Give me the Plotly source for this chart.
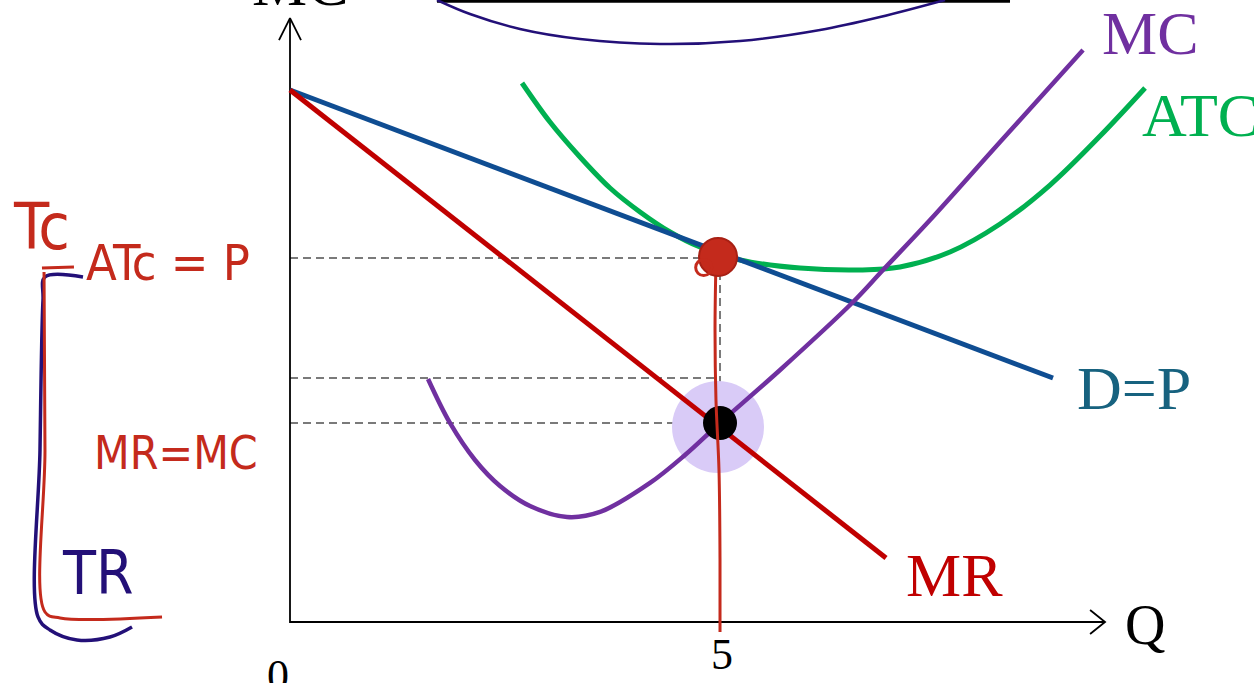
import plotly.graph_objects as go

# ---------------- data (Q on x, price/cost on y) ----------------
demand_q = [0.0, 8.872]
demand_p = [10.0, 4.586]

mr_q = [0.0, 6.930]
mr_p = [10.0, 1.203]

mc_q = [1.605, 1.860, 2.151, 2.442, 2.791, 3.221, 3.605, 4.186, 4.593, 5.0,
        5.698, 6.535, 6.895, 7.442, 8.256, 9.221]
mc_p = [4.568, 3.741, 3.045, 2.556, 2.180, 1.974, 2.068, 2.613, 3.139, 3.741,
        4.737, 5.996, 6.617, 7.556, 9.023, 10.752]

atc_q = [2.698, 3.023, 3.372, 3.721, 4.070, 4.419, 4.767, 5.233, 5.930, 6.628,
         7.093, 7.674, 8.256, 8.837, 9.419, 9.942]
atc_p = [10.132, 9.398, 8.741, 8.158, 7.707, 7.331, 7.049, 6.805, 6.654, 6.617,
         6.673, 6.955, 7.481, 8.214, 9.135, 10.038]

# partially visible curve and rule at the top (previous diagram)
top_curve_q = [1.709, 2.093, 2.674, 3.372, 4.302, 5.233, 6.163, 6.860, 7.616]
top_curve_p = [11.692, 11.429, 11.147, 10.959, 10.865, 10.921, 11.128, 11.372, 11.692]
top_rule_q = [1.709, 8.372]
top_rule_p = [11.67, 11.67]

# equilibrium values
q_star = 5.0
p_atc = 6.842       # ATC = P level
p_upper = 4.586     # second dashed level
p_mr_mc = 3.741     # MR = MC level

# hand-drawn annotations (pen strokes)
pen_vert_q = [4.953, 4.942, 4.953, 4.988, 5.0, 5.0]
pen_vert_p = [6.767, 5.489, 4.173, 2.857, 1.165, -0.188]

navy_bracket_q = [-2.407, -2.849, -2.872, -2.907, -2.930, -2.791, -2.477, -2.093, -1.837]
navy_bracket_p = [6.485, 6.485, 6.053, 3.233, 0.094, -0.150, -0.338, -0.282, -0.094]

red_tick_q = [-2.884, -2.512]
red_tick_p = [6.654, 6.673]
red_bracket_q = [-2.860, -2.849, -2.849, -2.674, -1.488]
red_bracket_p = [6.579, 3.233, 0.188, 0.075, 0.094]

# axes
y_axis_top = 11.353
x_axis_end = 9.477

# ---------------- figure ----------------
RED = "#c00000"
BLUE = "#0f4d92"
PURPLE = "#7030a0"
GREEN = "#00b050"
PEN_RED = "#c42a1c"
PEN_NAVY = "#231078"
GRAY = "#7a7a7a"

fig = go.Figure()

def line(q, p, color, width, dash="solid", shape="linear"):
    fig.add_trace(go.Scatter(x=q, y=p, mode="lines", hoverinfo="skip",
                             line=dict(color=color, width=width, dash=dash, shape=shape)))

# dashed guide lines
for lvl in (p_atc, p_upper, p_mr_mc):
    line([0, q_star], [lvl, lvl], GRAY, 2, dash="8px,5px")
line([q_star, q_star], [p_mr_mc, p_atc], GRAY, 2, dash="8px,5px")

# axes with open arrow heads
line([0, 0, x_axis_end], [y_axis_top, 0, 0], "black", 1.8)
line([-0.128, 0, 0.128], [y_axis_top - 0.414, y_axis_top, y_axis_top - 0.414], "black", 1.8)
line([x_axis_end - 0.174, x_axis_end, x_axis_end - 0.174], [0.226, 0, -0.226], "black", 1.8)

# top leftovers
line(top_rule_q, top_rule_p, "black", 3)
line(top_curve_q, top_curve_p, PEN_NAVY, 2.5, shape="spline")

# lavender highlight
fig.add_trace(go.Scatter(x=[q_star - 0.023], y=[p_mr_mc - 0.076], mode="markers", hoverinfo="skip",
                         marker=dict(size=92, color="#d9cbf7", line=dict(width=0))))

# economic curves
line(atc_q, atc_p, GREEN, 5, shape="spline")
line(demand_q, demand_p, BLUE, 5)
line(mc_q, mc_p, PURPLE, 4.5, shape="spline")
line(mr_q, mr_p, RED, 5)

# black equilibrium dot
fig.add_trace(go.Scatter(x=[q_star], y=[p_mr_mc], mode="markers", hoverinfo="skip",
                         marker=dict(size=34, color="black")))

# pen strokes
line(pen_vert_q, pen_vert_p, PEN_RED, 3, shape="spline")
fig.add_trace(go.Scatter(x=[q_star - 0.023], y=[p_atc + 0.02], mode="markers", hoverinfo="skip",
                         marker=dict(size=38, color=PEN_RED, line=dict(color="#a82014", width=2))))
fig.add_trace(go.Scatter(x=[q_star - 0.19], y=[p_atc - 0.18], mode="markers", hoverinfo="skip",
                         marker=dict(size=16, color="rgba(0,0,0,0)", line=dict(color=PEN_RED, width=3))))
line(navy_bracket_q, navy_bracket_p, PEN_NAVY, 3.5, shape="spline")
line(red_tick_q, red_tick_p, PEN_RED, 3)
line(red_bracket_q, red_bracket_p, PEN_RED, 3, shape="spline")

SERIF = "Liberation Serif, Times New Roman, serif"
HAND = "Liberation Sans Narrow, DejaVu Sans Condensed, sans-serif"

def label(text, q, p, color, size, family=SERIF, xanchor="center", yshift=0):
    fig.add_annotation(x=q, y=p, text=text, showarrow=False, xanchor=xanchor, yanchor="middle",
                       yshift=yshift, font=dict(family=family, size=size, color=color))

label("MC", 10.0, 11.07, PURPLE, 62)
label("ATC", 9.884, 9.53, GREEN, 62, xanchor="left")
label("D=P", 9.814, 4.39, "#17627f", 62)
label("MR", 7.721, 0.88, RED, 62)
label("Q", 9.942, -0.06, "black", 56)
label("5", 5.023, -0.61, "black", 44)
label("0", -0.14, -1.0, "black", 44)
label("MC", 0.116, 11.6, "black", 62, yshift=21)

label("Tc", -2.884, 7.42, PEN_RED, 64, family=HAND)
label("ATc = P", -1.419, 6.75, PEN_RED, 50, family=HAND)
label("MR=MC", -1.326, 3.17, PEN_RED, 46, family=HAND)
label("TR", -2.233, 0.92, PEN_NAVY, 60, family=HAND)

fig.update_layout(
    width=1254, height=683,
    margin=dict(l=0, r=0, t=0, b=0),
    showlegend=False,
    paper_bgcolor="white", plot_bgcolor="white",
    xaxis=dict(range=[-3.372, 11.209], visible=False, fixedrange=True),
    yaxis=dict(range=[-1.147, 11.692], visible=False, fixedrange=True),
)

fig.write_html("out.html", config={"displayModeBar": False},
               post_script="document.body.style.margin='0';")
